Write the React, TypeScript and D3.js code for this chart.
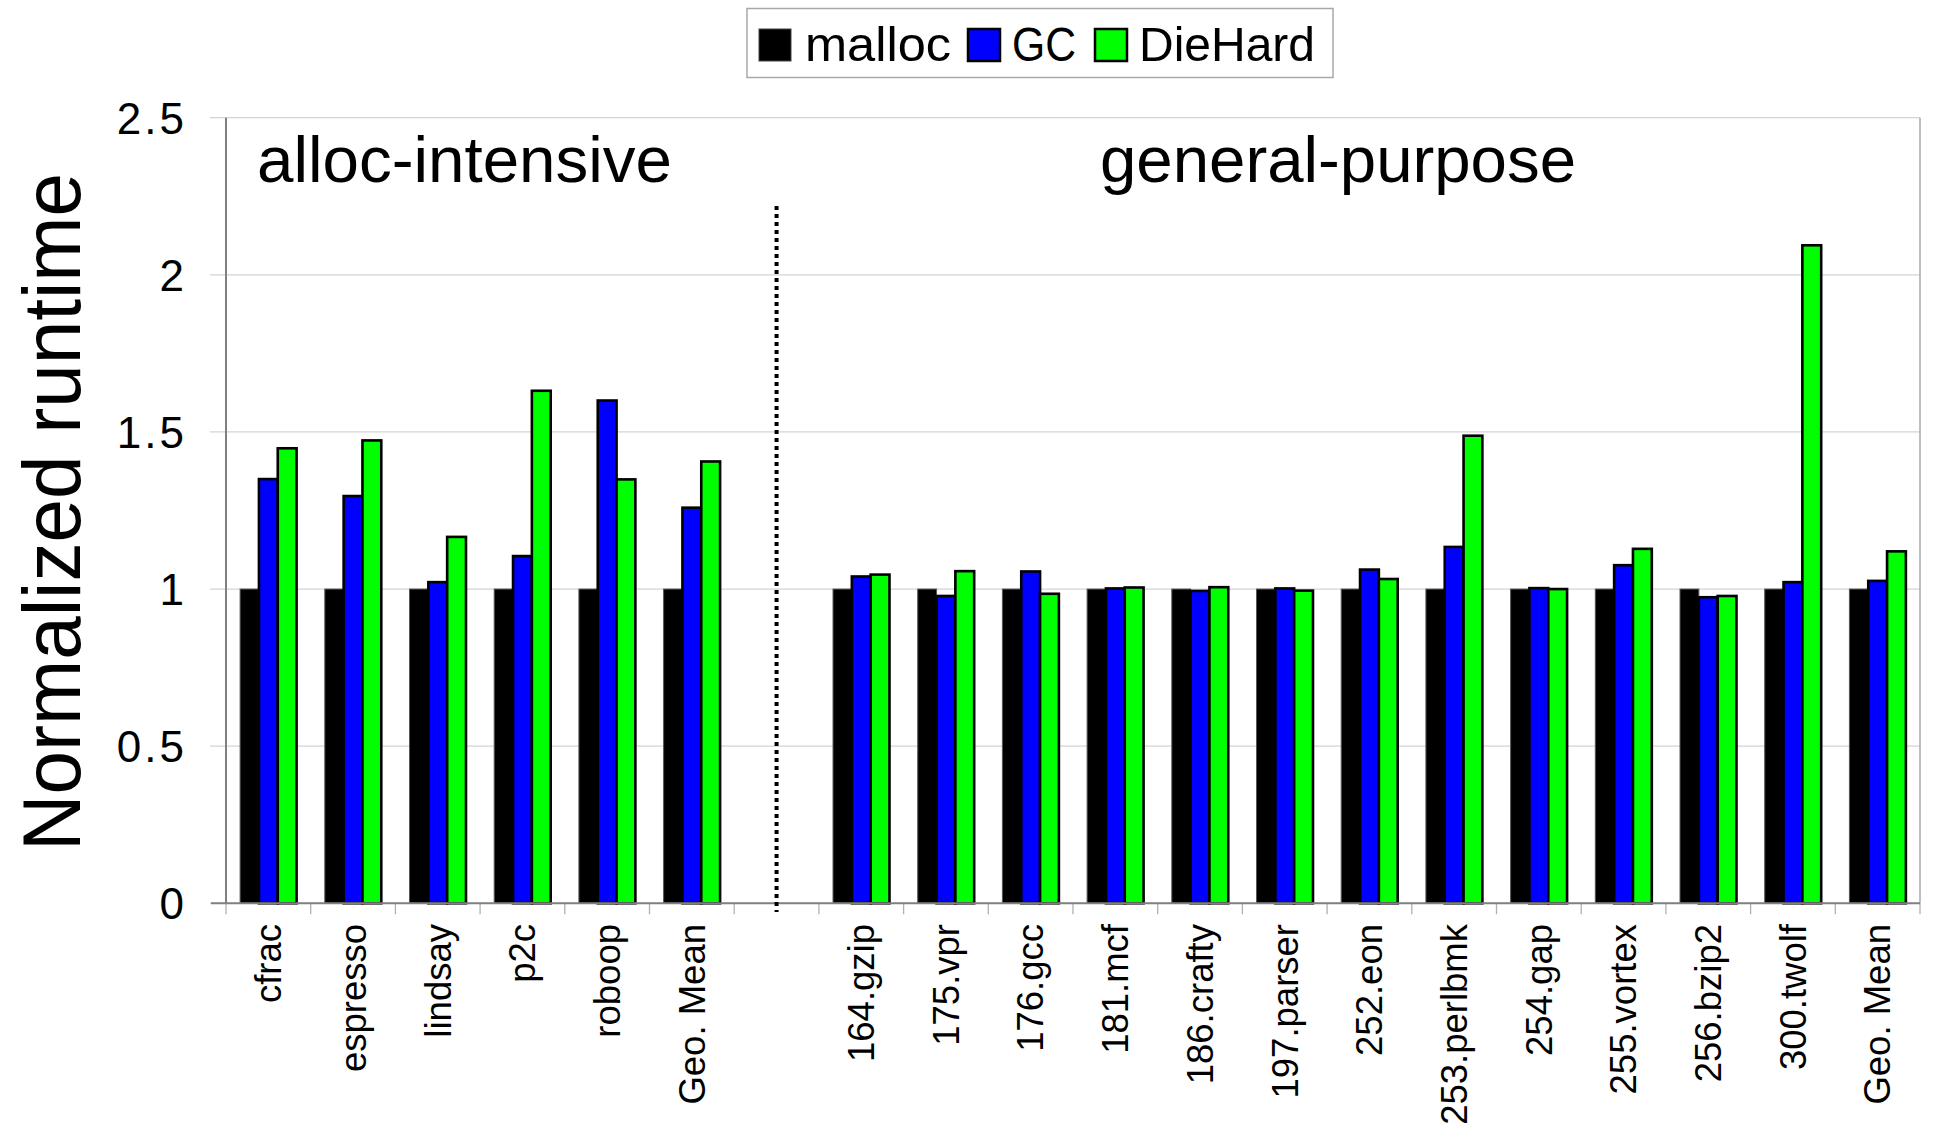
import React from "react";
import * as d3 from "d3";

const allocCats = ["cfrac", "espresso", "lindsay", "p2c", "roboop", "Geo. Mean"];
const generalCats = [
  "164.gzip", "175.vpr", "176.gcc", "181.mcf", "186.crafty", "197.parser",
  "252.eon", "253.perlbmk", "254.gap", "255.vortex", "256.bzip2", "300.twolf", "Geo. Mean",
];
const seriesNames = ["malloc", "GC", "DieHard"];
const seriesColors = ["#000000", "#0000ff", "#00ff00"];

const mallocAlloc = [1, 1, 1, 1, 1, 1];
const gcAlloc = [1.35, 1.296, 1.022, 1.105, 1.6, 1.259];
const diehardAlloc = [1.448, 1.473, 1.166, 1.631, 1.349, 1.406];

const mallocGeneral = [1, 1, 1, 1, 1, 1, 1, 1, 1, 1, 1, 1, 1];
const gcGeneral = [1.04, 0.978, 1.056, 1.002, 0.994, 1.002, 1.062, 1.134, 1.003, 1.076, 0.974, 1.022, 1.026];
const diehardGeneral = [1.046, 1.057, 0.985, 1.005, 1.006, 0.995, 1.032, 1.488, 1.0, 1.128, 0.978, 2.094, 1.12];

const yTicks = [0, 0.5, 1, 1.5, 2, 2.5];
const groupLabels = ["alloc-intensive", "general-purpose"];

const FONT = "'Liberation Sans', Arial, Helvetica, sans-serif";

type Row = { key: string; label: string; values: number[] };

const rows: Row[] = [
  ...allocCats.map((c, i) => ({ key: "a" + i, label: c, values: [mallocAlloc[i], gcAlloc[i], diehardAlloc[i]] })),
  { key: "gap", label: "", values: [] },
  ...generalCats.map((c, i) => ({ key: "g" + i, label: c, values: [mallocGeneral[i], gcGeneral[i], diehardGeneral[i]] })),
];

export default function App() {
  const W = 1934, H = 1135;
  const left = 226, right = 1920, top = 117.7, bottom = 903.3;

  const x = d3.scaleBand<string>().domain(rows.map((r) => r.key)).range([left, right]).paddingInner(0).paddingOuter(0);
  const xs = d3.scaleBand<string>().domain(seriesNames).range([0, x.bandwidth()]).paddingInner(0).paddingOuter(0.75);
  const y = d3.scaleLinear().domain([0, 2.5]).range([bottom, top]);

  const gapX = (x("gap") as number) + x.bandwidth() / 2;
  const boundaries = d3.range(rows.length + 1).map((i) => left + i * x.step());

  return (
    <div style={{ position: "absolute", left: 0, top: 0 }}>
      <svg width={W} height={H} style={{ display: "block", background: "#fff" }} fontFamily={FONT}>
        {/* gridlines */}
        {yTicks.map((t) => (
          <line key={"g" + t} x1={210} x2={right} y1={y(t)} y2={y(t)} stroke="#d4d4d4" strokeWidth={1.3} />
        ))}
        {/* right border */}
        <line x1={right} x2={right} y1={top} y2={bottom} stroke="#a8a8a8" strokeWidth={1.5} />
        {/* x ticks */}
        {boundaries.map((b, i) => (
          <line key={"xt" + i} x1={b} x2={b} y1={bottom} y2={bottom + 11} stroke="#b0b0b0" strokeWidth={1.3} />
        ))}
        {/* bars */}
        {rows.map((r) =>
          r.values.map((v, si) => (
            <rect
              key={r.key + si}
              x={(x(r.key) as number) + (xs(seriesNames[si]) as number)}
              y={y(v)}
              width={xs.bandwidth()}
              height={y(0) - y(v)}
              fill={seriesColors[si]}
              stroke={si === 0 ? "#555" : "#000"}
              strokeWidth={si === 0 ? 1 : 2.6}
            />
          ))
        )}
        {/* axes lines */}
        <line x1={left} x2={left} y1={top} y2={bottom} stroke="#808080" strokeWidth={2} />
        <line x1={211} x2={right} y1={bottom} y2={bottom} stroke="#808080" strokeWidth={2} />
        {/* y tick labels */}
        {yTicks.map((t) => (
          <text key={"yl" + t} x={187} y={y(t)} dy="0.36em" textAnchor="end" fontSize={44} letterSpacing={3}>
            {d3.format("")(t)}
          </text>
        ))}
        {/* y title */}
        <text
          transform={`translate(80,512) rotate(-90)`}
          textAnchor="middle"
          fontSize={82}
          textLength={678}
          lengthAdjust="spacingAndGlyphs"
        >
          Normalized runtime
        </text>
        {/* x labels */}
        {rows.filter((r) => r.label).map((r) => (
          <text
            key={"xl" + r.key}
            transform={`translate(${(x(r.key) as number) + x.bandwidth() / 2},924) rotate(-90)`}
            textAnchor="end"
            dy="0.35em"
            fontSize={36.5}
          >
            {r.label}
          </text>
        ))}
        {/* dotted separator */}
        <line x1={gapX} x2={gapX} y1={206} y2={912} stroke="#000" strokeWidth={4} strokeDasharray="4,4" />
        {/* group labels */}
        <text x={257} y={182} fontSize={64} textLength={415} lengthAdjust="spacingAndGlyphs">{groupLabels[0]}</text>
        <text x={1100} y={182} fontSize={64} textLength={476} lengthAdjust="spacingAndGlyphs">{groupLabels[1]}</text>
        {/* legend */}
        <rect x={747} y={8.5} width={586} height={69} fill="#fff" stroke="#a8a8a8" strokeWidth={1.5} />
        {seriesNames.map((s, i) => {
          const sx = [759, 968, 1095][i];
          const tx = [805, 1012, 1139][i];
          const tl = [146, 64, 176][i];
          return (
            <g key={"lg" + s}>
              <rect x={sx} y={29} width={32} height={32} fill={seriesColors[i]} stroke={i === 0 ? "#444" : "#000"} strokeWidth={i === 0 ? 1 : 2.5} />
              <text x={tx} y={61} fontSize={49} textLength={tl} lengthAdjust="spacingAndGlyphs">{s}</text>
            </g>
          );
        })}
      </svg>
    </div>
  );
}
